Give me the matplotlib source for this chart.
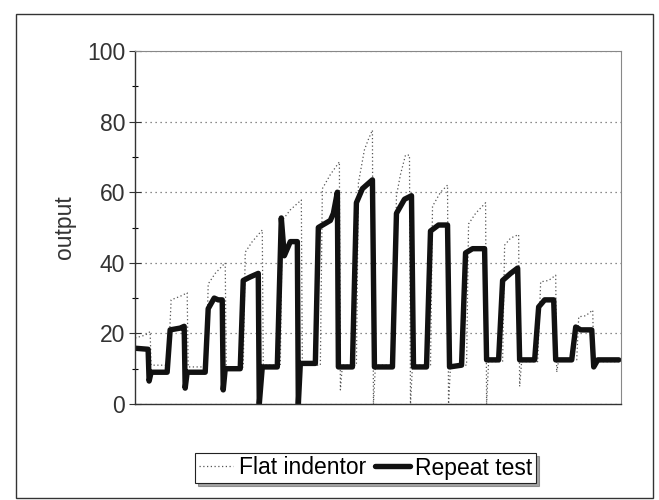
"""
Flat indentor vs repeat test output trace
"""

import matplotlib.pyplot as plt
from matplotlib.patches import Rectangle
from matplotlib.ticker import MultipleLocator, NullLocator

plt.rcParams['font.family'] = ['Liberation Sans', 'DejaVu Sans']

# repeat test (thick line): time, output
rt_t = [0, 13, 14, 16, 32, 35, 45, 49, 50, 52, 70, 73, 79, 83, 87, 88, 90,
        105, 108, 115, 123, 124, 127, 142, 146, 149, 155, 162, 163, 165, 180,
        183, 195, 198, 202, 203, 217, 221, 227, 237, 239, 257, 261, 269, 276,
        278, 291, 295, 303, 312, 314, 326, 330, 337, 349, 351, 363, 367, 375,
        382, 384, 399, 403, 409, 418, 420, 436, 440, 445, 456, 458, 462, 483]
rt_v = [15.8, 15.5, 6.5, 9, 9, 21, 21.5, 22, 4.5, 9, 9, 27, 30, 29.5, 29.5, 4, 10,
        10, 35, 36, 37, 0, 10.5, 10.5, 52.7, 42, 46, 46, 0, 11.5, 11.5,
        50, 52, 54, 60, 10.5, 10.5, 57, 61, 63.5, 10.5, 10.5, 54, 58, 59,
        10.5, 10.5, 49, 50.7, 50.7, 10.5, 11, 42.8, 44, 44, 12.5, 12.5, 35, 37,
        38.5, 12.5, 12.5, 27.5, 29.5, 29.5, 12.5, 12.5, 21.8, 21, 21, 10.5, 12.5, 12.5]

# flat indentor (dotted line): time, output
fi_t = [0, 10, 15, 16, 33, 36, 45, 52, 53, 71, 73, 80, 90, 91, 108, 110, 117,
        127, 128, 145, 147, 155, 166, 167, 185, 187, 195, 204, 205, 207, 221,
        223, 229, 233, 237, 238, 240, 258, 261, 265, 270, 274, 275, 277, 295,
        297, 305, 312, 313, 315, 331, 333, 340, 350, 351, 353, 367, 369, 375,
        383, 384, 386, 402, 405, 413, 420, 421, 423, 441, 443, 450, 457, 458, 483]
fi_v = [18.7, 19.5, 20.5, 11, 11, 29.5, 30.5, 31.5, 10.5, 10.5, 34, 37, 40, 10.5,
        10.5, 43, 46, 49.3, 11, 11, 52, 55, 57.8, 11, 11, 61, 65, 68.6, 4, 11,
        11, 62.6, 72, 75, 77.6, 0, 11, 11, 59, 65, 70.5, 70.5, 0, 11, 11,
        56, 60, 62, 0, 11, 11, 51, 54, 57, 0, 12, 12, 45, 47, 48, 5, 12,
        12, 34.6, 35, 36.5, 9, 12.5, 12.5, 24.7, 25, 26.6, 12, 12]

fig = plt.figure(figsize=(6.59, 5.0), dpi=100)
ax = fig.add_axes([0.205, 0.192, 0.737, 0.706])

ax.plot(fi_t, fi_v, color='#555555', lw=0.9, ls=(0, (1, 2)), label='Flat indentor')
ax.plot(rt_t, rt_v, color='#111111', lw=3.9, solid_joinstyle='round',
        solid_capstyle='round', label='Repeat test')

ax.set_xlim(0, 485)
ax.set_ylim(0, 100)
ax.yaxis.set_major_locator(MultipleLocator(20))
ax.yaxis.set_minor_locator(MultipleLocator(10))
ax.xaxis.set_major_locator(NullLocator())
ax.tick_params(axis='y', which='major', direction='inout', length=8, width=0.8,
               labelsize=16.5, colors='#333333', pad=3)
ax.tick_params(axis='y', which='minor', direction='inout', length=5, width=0.8)
ax.grid(axis='y', which='major', color='#666666', ls=(0, (1, 3)), lw=0.9)
ax.set_ylabel('output', fontsize=16.5, color='#333333', labelpad=8)

for side in ['top', 'right']:
    ax.spines[side].set_color('#888888')
    ax.spines[side].set_linewidth(0.8)
for side in ['left', 'bottom']:
    ax.spines[side].set_color('#333333')
    ax.spines[side].set_linewidth(1.0)

leg = fig.legend(loc='center', bbox_to_anchor=(0.555, 0.064), ncol=2,
                 fontsize=16.5, fancybox=False, shadow=True, edgecolor='#222222',
                 handlelength=1.5, handletextpad=0.25, columnspacing=0.4,
                 borderpad=0.15, framealpha=1)
leg.get_frame().set_linewidth(0.8)

# outer frame of the chart
fig.patches.append(Rectangle((0.024, 0.004), 0.967, 0.968, transform=fig.transFigure,
                             fill=False, edgecolor='#333333', lw=1.0))

fig.savefig('out.png', dpi=100)
